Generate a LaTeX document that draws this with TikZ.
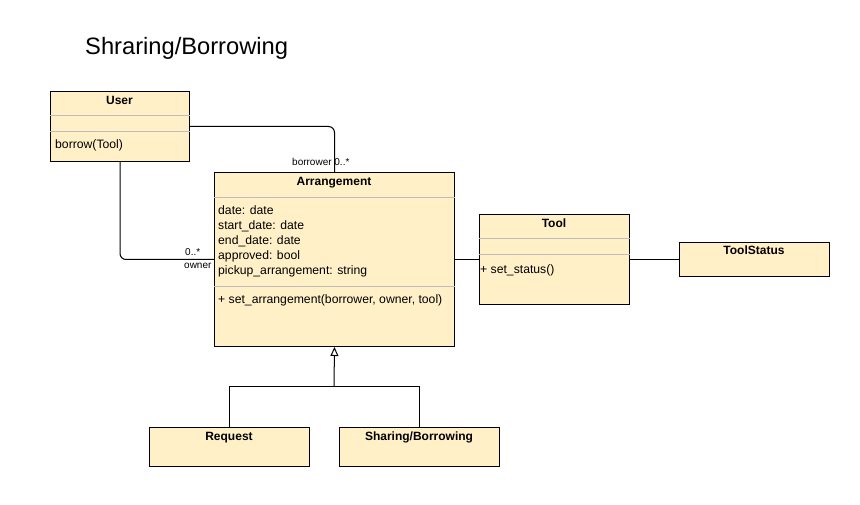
\documentclass[tikz,border=0pt]{standalone}
\usepackage{fontspec}
\setmainfont{Liberation Sans}
\usetikzlibrary{arrows.meta}
\definecolor{clsfill}{HTML}{FFF0C8}
\definecolor{sepgray}{HTML}{BDBDBD}
\tikzset{
  cls/.style={draw=black, fill=clsfill, line width=1pt, rectangle, anchor=north west, inner sep=0pt},
  sepline/.style={draw=sepgray, line width=1pt},
  hdr/.style={font=\fontsize{12}{14}\selectfont\bfseries, anchor=base, inner sep=0pt},
  attr/.style={font=\fontsize{12.2}{14}\selectfont, anchor=base west, inner sep=0pt},
  lbl/.style={font=\fontsize{10}{12}\selectfont, anchor=base west, inner sep=0pt},
  assoc/.style={draw=black, line width=1pt, rounded corners=6pt},
  gen/.style={draw=black, line width=1pt},
}
\begin{document}
\begin{tikzpicture}[x=1pt,y=-1pt]
\useasboundingbox[fill=white] (0,0) rectangle (860,505);
% title
\node[font=\fontsize{23.7}{28}\selectfont, anchor=base west, inner sep=0pt] (title) at (85,55) {Shraring/Borrowing};

% User
\node[cls, minimum width=139pt, minimum height=70pt] (user) at (50,91) {};
\draw[sepline] ([yshift=-25pt]user.north west) -- ([yshift=-25pt]user.north east);
\draw[sepline] ([yshift=-41pt]user.north west) -- ([yshift=-41pt]user.north east);
\node[hdr] (userT) at (119.5,105) {User};
\node[attr] (userM) at (55,149) {borrow(Tool)};

% Arrangement
\node[cls, minimum width=240pt, minimum height=174pt] (arr) at (214,172) {};
\draw[sepline] ([yshift=-26pt]arr.north west) -- ([yshift=-26pt]arr.north east);
\draw[sepline] ([yshift=-115pt]arr.north west) -- ([yshift=-115pt]arr.north east);
\node[hdr] (arrT) at (334,186) {Arrangement};
\node[attr] (a1) at (218,215) {date: date};
\node[attr] (a2) at (218,230) {start\_date: date};
\node[attr] (a3) at (218,245) {end\_date: date};
\node[attr] (a4) at (218,260) {approved: bool};
\node[attr] (a5) at (218,275) {pickup\_arrangement: string};
\node[attr] (am) at (218,304) {+ set\_arrangement(borrower, owner, tool)};

% Tool
\node[cls, minimum width=150pt, minimum height=90pt] (tool) at (479,214) {};
\draw[sepline] ([yshift=-25pt]tool.north west) -- ([yshift=-25pt]tool.north east);
\draw[sepline] ([yshift=-41pt]tool.north west) -- ([yshift=-41pt]tool.north east);
\node[hdr] (toolT) at (554,228) {Tool};
\node[attr] (toolM) at (480,274) {+ set\_status()};

% ToolStatus
\node[cls, minimum width=150pt, minimum height=34pt] (ts) at (679,242) {};
\node[hdr] (tsT) at (754,255) {ToolStatus};

% Request / Sharing
\node[cls, minimum width=160pt, minimum height=39pt] (req) at (149,427) {};
\node[hdr] (reqT) at (229,440) {Request};
\node[cls, minimum width=160pt, minimum height=39pt] (sb) at (339,427) {};
\node[hdr] (sbT) at (419,440) {Sharing/Borrowing};

% associations
\draw[assoc] (user.east) -| (arr.north);
\node[lbl] (lb1) at (292,166) {borrower 0..*};
\draw[assoc] (user.south) |- (arr.west);
\node[lbl] (lb2) at (185,256) {0..*};
\node[lbl] (lb3) at (184,269) {owner};
\draw[assoc] (arr.east) -- (tool.west);
\draw[assoc] (tool.east) -- (ts.west);

% generalization
\coordinate (gj) at (334,386);
\draw[gen] (req.north) |- (gj);
\draw[gen] (sb.north) |- (gj);
\draw[gen, -{Triangle[open, length=9pt, width=8pt]}] (gj) -- (arr.south);
\end{tikzpicture}
\end{document}
